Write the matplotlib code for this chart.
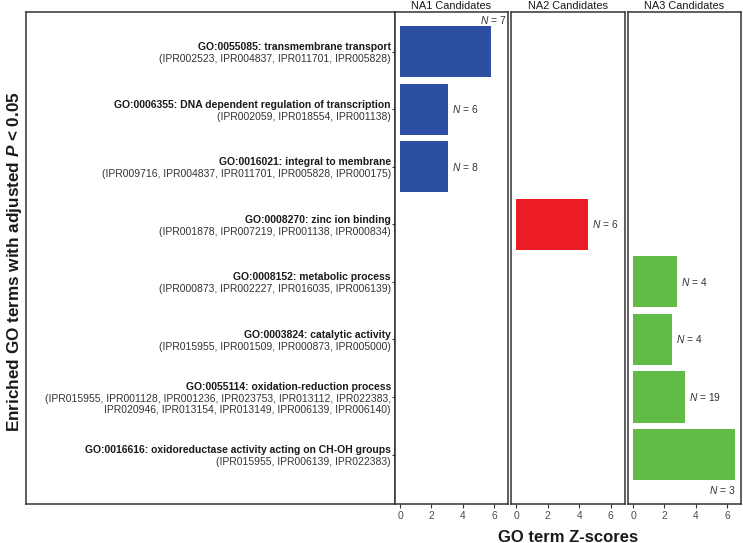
import matplotlib
matplotlib.use('Agg')
import matplotlib.pyplot as plt

plt.rcParams['font.family'] = ['Liberation Sans', 'DejaVu Sans']
plt.rcParams['mathtext.fontset'] = 'custom'
plt.rcParams['mathtext.rm'] = 'Liberation Sans'
plt.rcParams['mathtext.it'] = 'Liberation Sans:italic'
plt.rcParams['mathtext.sf'] = 'Liberation Sans:bold:italic'

# GO terms, top to bottom
go_terms = [
    "GO:0055085: transmembrane transport",
    "GO:0006355: DNA dependent regulation of transcription",
    "GO:0016021: integral to membrane",
    "GO:0008270: zinc ion binding",
    "GO:0008152: metabolic process",
    "GO:0003824: catalytic activity",
    "GO:0055114: oxidation-reduction process",
    "GO:0016616: oxidoreductase activity acting on CH-OH groups",
]
ipr_lists = [
    "(IPR002523, IPR004837, IPR011701, IPR005828)",
    "(IPR002059, IPR018554, IPR001138)",
    "(IPR009716, IPR004837, IPR011701, IPR005828, IPR000175)",
    "(IPR001878, IPR007219, IPR001138, IPR000834)",
    "(IPR000873, IPR002227, IPR016035, IPR006139)",
    "(IPR015955, IPR001509, IPR000873, IPR005000)",
    "(IPR015955, IPR001128, IPR001236, IPR023753, IPR013112, IPR022383,\n"
    "IPR020946, IPR013154, IPR013149, IPR006139, IPR006140)",
    "(IPR015955, IPR006139, IPR022383)",
]
groups = ["NA1", "NA1", "NA1", "NA2", "NA3", "NA3", "NA3", "NA3"]
zscores = [5.8, 3.07, 3.03, 4.57, 2.8, 2.48, 3.33, 6.52]
n_genes = [7, 6, 8, 6, 4, 4, 19, 3]

panels = ["NA1", "NA2", "NA3"]
colors = {"NA1": "#2D4FA3", "NA2": "#EC1C24", "NA3": "#62BA47"}
frame = "#333333"

W, H = 743, 543
fig = plt.figure(figsize=(W / 100, H / 100), dpi=100)


def px_axes(x0, y0, x1, y1):
    return fig.add_axes([x0 / W, 1 - y1 / H, (x1 - x0) / W, (y1 - y0) / H])


# outer box holding the term labels
box = px_axes(26, 12, 395, 504)
box.set_xticks([])
box.set_yticks([])
for s in box.spines.values():
    s.set_color(frame)
    s.set_linewidth(1.1)

panel_px = [(395, 508), (511, 625), (628, 741)]
rows = list(range(len(go_terms)))
axes = []
for k, (name, (x0, x1)) in enumerate(zip(panels, panel_px)):
    ax = px_axes(x0, 12, x1, 504)
    axes.append(ax)
    idx = [i for i in rows if groups[i] == name]
    ax.barh([rows[i] for i in idx], [zscores[i] for i in idx], height=0.89,
            color=colors[name], edgecolor='none')
    ax.set_xlim(-0.33, 6.9)
    ax.set_ylim(7.86, -0.69)
    ax.set_xticks([0, 2, 4, 6])
    ax.tick_params(axis='x', length=3, width=0.8, color=frame, pad=2,
                   labelsize=7.4, labelcolor='#4D4D4D')
    if k == 0:
        ax.set_yticks(rows)
        ax.set_yticklabels([])
        ax.tick_params(axis='y', length=2.5, width=0.8, color=frame)
    else:
        ax.set_yticks([])
    for s in ax.spines.values():
        s.set_color(frame)
        s.set_linewidth(1.1)
    ax.set_title(f"{name} Candidates", fontsize=7.9, color='#1A1A1A', pad=2)

    # N labels
    for i in idx:
        v = zscores[i]
        txt = rf"$N$ = {n_genes[i]}"
        if v > 5 and i == idx[0]:
            ax.annotate(txt, xy=(6.8, i - 0.55), ha='right', va='center',
                        fontsize=7.4, color='#333333')
        elif v > 5:
            ax.annotate(txt, xy=(v, i + 0.62), ha='right', va='center',
                        fontsize=7.4, color='#333333')
        else:
            ax.annotate(txt, xy=(v, i), xytext=(3, 0), textcoords='offset points',
                        ha='left', va='center', fontsize=7.4, color='#333333')

# term labels, right aligned against the first panel
ls = 8.5  # line spacing in points
shift = -1.0
ax1 = axes[0]
for i in rows:
    n = ipr_lists[i].count("\n") + 1
    ax1.annotate(go_terms[i], xy=(0, i), xycoords=('axes fraction', 'data'),
                 xytext=(-3, n / 2 * ls + shift), textcoords='offset points',
                 ha='right', va='center', fontsize=7.5, fontweight='bold',
                 color='#1A1A1A')
    ax1.annotate(ipr_lists[i], xy=(0, i), xycoords=('axes fraction', 'data'),
                 xytext=(-3, -0.5 * ls + shift), textcoords='offset points',
                 ha='right', va='center', ma='right', fontsize=7.5,
                 color='#333333', linespacing=1.13)

fig.text(568 / W, 1 - 537 / H, "GO term Z-scores", ha='center', va='center',
         fontsize=12, fontweight='bold', color='#1A1A1A')
fig.text(15 / W, 1 - 262 / H, r"Enriched GO terms with adjusted $\mathsf{P}$ < 0.05",
         ha='center', va='center', rotation=90, fontsize=12.3,
         fontweight='bold', color='#1A1A1A')

fig.savefig("out.png", dpi=100)
plt.close(fig)
